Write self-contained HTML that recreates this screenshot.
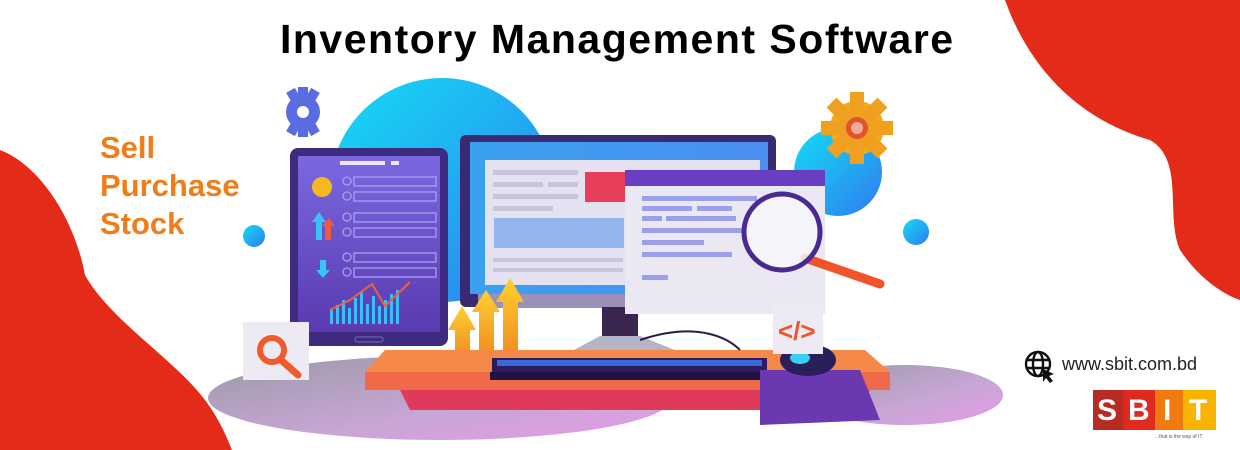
<!DOCTYPE html>
<html><head><meta charset="utf-8"><style>
html,body{margin:0;padding:0;background:#fff;}
#c{position:relative;width:1240px;height:450px;overflow:hidden;font-family:"Liberation Sans",sans-serif;}
svg{position:absolute;left:0;top:0;}
.t{position:absolute;white-space:nowrap;}
</style></head><body><div id="c">
<svg width="1240" height="450" viewBox="0 0 1240 450">
<defs>
<linearGradient id="bl" x1="0" y1="0" x2="1" y2="1"><stop offset="0" stop-color="#14dcf4"/><stop offset="1" stop-color="#2f7cf0"/></linearGradient>
<linearGradient id="fl" x1="0" y1="0" x2="1" y2="1"><stop offset="0" stop-color="#9a9aa6"/><stop offset="0.6" stop-color="#c9a6d6"/><stop offset="1" stop-color="#e59ae8"/></linearGradient>
<linearGradient id="tb" x1="0" y1="0" x2="0" y2="1"><stop offset="0" stop-color="#7a68e0"/><stop offset="1" stop-color="#5a3ab0"/></linearGradient>
<linearGradient id="sc" x1="0" y1="0" x2="1" y2="0"><stop offset="0" stop-color="#3aa0f0"/><stop offset="1" stop-color="#4a8ff0"/></linearGradient>
<linearGradient id="ar" x1="0" y1="0" x2="0" y2="1"><stop offset="0" stop-color="#ffd030"/><stop offset="1" stop-color="#f08a20"/></linearGradient>
</defs>
<path d="M1005 0 C1030 70 1080 120 1150 140 C1185 160 1165 215 1180 250 C1200 280 1225 295 1240 300 L1240 0 Z" fill="#e42a19"/>
<path d="M0 150 C40 165 75 220 85 275 C110 320 175 360 205 400 C220 420 228 440 232 450 L0 450 Z" fill="#e42a19"/>
<ellipse cx="440" cy="398" rx="232" ry="42" fill="url(#fl)"/>
<ellipse cx="905" cy="395" rx="98" ry="30" fill="url(#fl)"/>
<circle cx="442" cy="190" r="112" fill="url(#bl)"/>
<circle cx="838" cy="172" r="44" fill="url(#bl)"/>
<circle cx="254" cy="236" r="11" fill="url(#bl)"/>
<circle cx="916" cy="232" r="13" fill="url(#bl)"/>
<g transform="translate(303,112)"><circle r="17" fill="#5a6de0"/><g fill="#5a6de0"><rect x="-5" y="-25" width="10" height="50"/><rect x="-25" y="-5" width="50" height="10" transform="rotate(60)"/><rect x="-25" y="-5" width="50" height="10" transform="rotate(-60)"/></g><circle r="6" fill="#fff"/></g>
<g transform="translate(857,128)"><circle r="27" fill="#f4a81e"/><g fill="#f0a020"><rect x="-7" y="-36" width="14" height="72"/><rect x="-7" y="-36" width="14" height="72" transform="rotate(45)"/><rect x="-7" y="-36" width="14" height="72" transform="rotate(90)"/><rect x="-7" y="-36" width="14" height="72" transform="rotate(135)"/></g><circle r="11" fill="#e0542a"/><circle r="6" fill="#fff" opacity=".5"/></g>
<rect x="290" y="148" width="158" height="198" rx="8" fill="#3e2a7e"/>
<rect x="298" y="156" width="142" height="176" fill="url(#tb)"/>
<rect x="340" y="161" width="45" height="4" fill="#e8e8ff"/><rect x="391" y="161" width="8" height="4" fill="#e8e8ff"/>
<g fill="none" stroke="#a9a0f0" stroke-width="1.3">
<rect x="354" y="177" width="82" height="9"/><rect x="354" y="192" width="82" height="9"/>
<rect x="354" y="213" width="82" height="9"/><rect x="354" y="228" width="82" height="9"/>
<rect x="354" y="253" width="82" height="9"/><rect x="354" y="268" width="82" height="9"/>
<circle cx="347" cy="181" r="4"/><circle cx="347" cy="196" r="4"/><circle cx="347" cy="217" r="4"/><circle cx="347" cy="232" r="4"/><circle cx="347" cy="257" r="4"/><circle cx="347" cy="272" r="4"/>
</g>
<circle cx="322" cy="187" r="10" fill="#f5b920"/>
<path d="M316 240 L316 222 L312 222 L319 212 L326 222 L322 222 L322 240Z" fill="#36c4f5"/><path d="M325 240 L325 226 L322 226 L329 218 L335 226 L331 226 L331 240Z" fill="#f05a3c"/>
<path d="M320 260 L320 270 L316 270 L323 278 L330 270 L326 270 L326 260Z" fill="#36c4f5"/>
<g fill="#39c0f8"><rect x="330" y="310" width="3" height="14"/><rect x="336" y="305" width="3" height="19"/><rect x="342" y="300" width="3" height="24"/><rect x="348" y="308" width="3" height="16"/><rect x="354" y="298" width="3" height="26"/><rect x="360" y="292" width="3" height="32"/><rect x="366" y="304" width="3" height="20"/><rect x="372" y="296" width="3" height="28"/><rect x="378" y="306" width="3" height="18"/><rect x="384" y="300" width="3" height="24"/><rect x="390" y="294" width="3" height="30"/><rect x="396" y="290" width="3" height="34"/></g>
<polyline points="330,310 350,300 372,284 385,306 410,282" fill="none" stroke="#f06040" stroke-width="2"/>
<rect x="355" y="337" width="28" height="5" rx="2" fill="none" stroke="#7a6ac0"/>
<rect x="460" y="135" width="316" height="172" rx="6" fill="#3a2a72"/>
<rect x="470" y="142" width="298" height="152" fill="url(#sc)"/>
<rect x="485" y="160" width="275" height="125" fill="#e4e2f0"/>
<g fill="#c8c4da"><rect x="493" y="170" width="85" height="5"/><rect x="493" y="182" width="50" height="5"/><rect x="548" y="182" width="30" height="5"/><rect x="493" y="194" width="85" height="5"/><rect x="493" y="206" width="60" height="5"/><rect x="493" y="258" width="130" height="4"/><rect x="493" y="268" width="130" height="4"/></g>
<rect x="585" y="172" width="40" height="30" fill="#e83e5c"/>
<rect x="494" y="218" width="130" height="30" fill="#93b4ec"/>
<rect x="478" y="294" width="288" height="14" fill="#9a90b8"/>
<rect x="602" y="307" width="36" height="36" fill="#3a2450"/>
<path d="M570 352 L600 336 L640 336 L680 352Z" fill="#b7b3c7"/>
<rect x="625" y="170" width="200" height="144" fill="#ebe8f4"/>
<rect x="625" y="170" width="200" height="16" fill="#6a3ec0"/>
<g fill="#9aa0ec"><rect x="642" y="196" width="115" height="5"/><rect x="642" y="206" width="50" height="5"/><rect x="697" y="206" width="35" height="5"/><rect x="642" y="216" width="20" height="5"/><rect x="666" y="216" width="70" height="5"/><rect x="642" y="228" width="100" height="5"/><rect x="642" y="240" width="62" height="5"/><rect x="642" y="252" width="90" height="5"/><rect x="642" y="275" width="26" height="5"/></g>
<line x1="805" y1="258" x2="880" y2="284" stroke="#f0542a" stroke-width="9" stroke-linecap="round"/>
<circle cx="782" cy="232" r="38" fill="#f6f6fc" fill-opacity=".85" stroke="#4a2a90" stroke-width="5"/>
<path d="M455 358 L455 330 L448 330 L462 306 L476 330 L470 330 L470 358Z" fill="url(#ar)"/>
<path d="M479 358 L479 312 L472 312 L486 290 L500 312 L494 312 L494 358Z" fill="url(#ar)"/>
<path d="M503 358 L503 302 L496 302 L510 278 L524 302 L518 302 L518 358Z" fill="url(#ar)"/>
<path d="M365 372 L385 350 L865 350 L890 372Z" fill="#f5894a"/>
<rect x="365" y="372" width="525" height="18" fill="#f06a4a"/>
<path d="M400 390 L870 390 L860 410 L410 410Z" fill="#e03a5a"/>
<path d="M640 340 C700 320 730 340 740 350" fill="none" stroke="#2a1a4a" stroke-width="2"/>
<rect x="492" y="358" width="275" height="14" fill="#2e1a5e"/>
<rect x="497" y="360" width="265" height="6" fill="#3a6ad8"/>
<rect x="490" y="372" width="280" height="8" fill="#21133f"/>
<path d="M760 370 L860 370 L880 420 L760 425Z" fill="#6a38b0"/>
<ellipse cx="808" cy="360" rx="28" ry="16" fill="#2a1f5a"/><ellipse cx="800" cy="358" rx="10" ry="6" fill="#3ad0f4"/>
<rect x="243" y="322" width="66" height="58" fill="#eeeaf4"/>
<circle cx="272" cy="350" r="12" fill="none" stroke="#f05a2c" stroke-width="6"/><line x1="281" y1="360" x2="298" y2="375" stroke="#f05a2c" stroke-width="7" stroke-linecap="round"/>
<rect x="773" y="302" width="50" height="52" fill="#eeeaf4"/>
<text x="778" y="340" font-size="26" font-weight="bold" fill="#f0542a" font-family="Liberation Sans">&lt;/&gt;</text>
<rect x="1093" y="390" width="30" height="40" fill="#b82a22"/>
<rect x="1123" y="390" width="32" height="40" fill="#e02a20"/>
<rect x="1155" y="390" width="28" height="40" fill="#ee7a10"/>
<rect x="1183" y="390" width="33" height="40" fill="#f8b400"/>
<g fill="#fff" font-family="Liberation Sans" font-weight="bold" font-size="30"><text x="1097" y="420">S</text><text x="1128" y="420">B</text><text x="1163" y="420">I</text><text x="1189" y="420">T</text></g>
<text x="1155" y="438" font-size="5" fill="#555" font-family="Liberation Sans">...that is the way of IT</text>
<g fill="none" stroke="#111" stroke-width="2.4"><circle cx="1038" cy="364" r="12"/><ellipse cx="1038" cy="364" rx="5" ry="12"/><line x1="1026" y1="360" x2="1050" y2="360"/><line x1="1026" y1="368" x2="1050" y2="368"/></g>
<path d="M1043 369 L1054 374 L1049 376 L1053 381 L1050 383 L1046 378 L1043 382Z" fill="#111"/>
</svg>
<div class="t" style="left:280px;top:16px;font-size:41px;font-weight:bold;color:#000;letter-spacing:1.5px">Inventory Management Software</div>
<div class="t" style="left:100px;top:129px;font-size:31px;font-weight:bold;color:#ee7d1a;line-height:38px">Sell<br>Purchase<br>Stock</div>
<div class="t" style="left:1062px;top:354px;font-size:18px;color:#222">www.sbit.com.bd</div>
</div></body></html>
